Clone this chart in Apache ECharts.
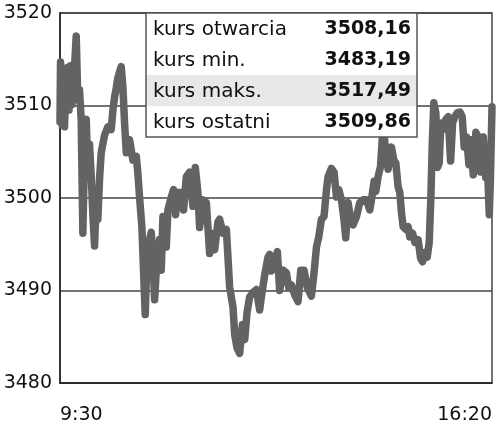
<!DOCTYPE html>
<html>
<head>
<meta charset="utf-8">
<script src="https://cdn.jsdelivr.net/npm/echarts@6/dist/echarts.min.js"></script>
<style>
html,body{margin:0;padding:0;background:#fff;}
#chart{width:500px;height:427px;}
</style>
</head>
<body>
<div id="chart"></div>
<script>
// minutes after 9:30
var times = [0,0.5,1.9,3.3,4.3,5.7,7.1,8.6,10.0,11.4,12.8,15.4,16.9,18.5,20.1,21.7,23.3,24.9,26.4,28.0,
29.6,31.2,32.8,34.4,35.9,37.5,39.1,42.3,45.4,48.6,50.2,51.8,53.4,54.9,56.5,58.1,59.7,61.3,62.9,66.0,
69.2,72.4,73.9,75.5,77.7,79.6,80.9,82.2,83.4,85.0,86.6,88.2,89.8,91.4,92.9,94.5,96.1,97.7,99.3,100.9,
102.4,105.6,107.8,109.7,111.9,115.1,117.3,119.9,123.0,126.2,128.4,130.9,132.5,135.7,138.9,142.0,143.6,146.8,149.9,151.5,
154.7,157.9,159.4,161.0,164.2,165.8,168.0,170.5,173.1,175.3,177.5,180.0,183.2,186.4,189.5,191.1,194.3,197.4,199.0,200.6,
203.1,206.3,208.5,211.7,214.9,217.1,219.6,222.8,225.9,228.5,231.6,234.8,238.6,241.1,243.4,245.6,248.1,250.6,252.9,254.4,
257.6,260.1,262.4,264.6,267.1,269.6,271.2,273.4,276.0,278.2,281.4,284.5,287.7,290.9,294.0,295.6,298.1,299.7,301.9,304.2,
306.7,309.2,311.4,314.6,316.8,318.7,320.9,322.5,324.1,325.7,328.2,330.4,332.0,334.6,336.8,339.9,342.2,344.1,346.3,348.5,
350.4,352.0,353.2,354.8,356.7,358.3,359.9,361.5,363.7,366.2,368.4,370.7,372.6,374.8,377.0,379.5,381.7,383.6,385.9,388.1,
390.0,392.2,394.7,396.9,399.2,401.7,404.0,405.5,407.4,408.5,410];
var prices = [3508.2,3514.7,3507.9,3513.9,3507.7,3513.3,3514.1,3509.5,3514.3,3510.1,3512.2,3517.5,3510.6,3511.7,3508.5,3496.2,3505.2,3508.5,3503.0,3505.8,
3502.5,3498.2,3494.8,3499.8,3497.7,3502.0,3504.9,3506.8,3507.7,3507.4,3509.5,3510.9,3511.9,3513.0,3513.6,3514.2,3512.0,3508.1,3504.9,3506.3,
3504.1,3504.5,3502.7,3500.1,3496.9,3491.2,3487.4,3492.2,3494.1,3495.5,3496.3,3493.3,3489.0,3492.2,3494.1,3495.5,3492.2,3498.0,3497.1,3494.7,
3498.7,3500.1,3500.9,3498.2,3500.6,3500.6,3498.7,3502.3,3502.8,3499.1,3503.3,3500.6,3496.8,3499.8,3499.5,3494.0,3496.2,3494.4,3497.4,3497.7,
3496.2,3496.6,3493.6,3490.4,3488.2,3485.2,3483.8,3483.2,3486.3,3484.7,3487.6,3489.3,3489.8,3490.1,3487.9,3489.3,3491.7,3493.6,3493.9,3492.1,
3493.0,3494.2,3490.0,3492.2,3491.9,3490.3,3490.6,3489.5,3488.8,3492.2,3492.2,3490.3,3489.4,3491.9,3494.7,3495.8,3497.7,3498.0,3500.9,3502.3,
3503.2,3502.8,3500.1,3500.9,3499.8,3497.6,3495.7,3499.5,3497.6,3497.1,3498.0,3499.5,3499.8,3499.8,3498.7,3499.8,3501.8,3500.7,3502.3,3503.4,
3507.9,3504.9,3503.1,3505.5,3504.1,3503.8,3501.2,3500.6,3498.4,3496.9,3496.6,3496.9,3495.8,3496.2,3495.2,3495.5,3493.5,3493.1,3494.1,3493.6,
3495.2,3500.1,3505.5,3510.3,3509.2,3503.3,3503.8,3508.1,3507.4,3508.5,3508.8,3504.0,3508.1,3508.8,3509.2,3509.3,3508.8,3505.5,3506.6,3503.6,
3506.3,3502.5,3507.1,3506.6,3502.8,3506.6,3502.2,3504.1,3498.2,3502.0,3509.86];
var xTickLabels = ['9:30', '16:20'];
var yTicks = [3480, 3490, 3500, 3510, 3520];
var statLabels = ['kurs otwarcia', 'kurs min.', 'kurs maks.', 'kurs ostatni'];
var statValues = ['3508,16', '3483,19', '3517,49', '3509,86'];

var FONT = 'DejaVu Sans';
var data = times.map(function (t, i) { return [t, prices[i]]; });

// legend box graphics
var boxL = 146, boxT = 13, boxW = 271, boxH = 124, rowH = 31;
var gfx = [];
gfx.push({type:'rect', shape:{x:boxL, y:boxT, width:boxW, height:boxH}, style:{fill:'#fff', stroke:'none'}, z:100});
gfx.push({type:'rect', shape:{x:boxL, y:boxT + 2*rowH, width:boxW, height:rowH}, style:{fill:'#e8e8e8'}, z:101});
gfx.push({type:'rect', shape:{x:boxL, y:boxT, width:boxW, height:boxH}, style:{fill:'none', stroke:'#555', lineWidth:1.5}, z:103});
statLabels.forEach(function (lab, i) {
  var cy = boxT + rowH * i + rowH / 2 + 1;
  gfx.push({type:'text', x:boxL + 7, y:cy, z:104,
    style:{text:lab, font:'20px "' + FONT + '"', fill:'#111', textVerticalAlign:'middle', textAlign:'left'}});
  gfx.push({type:'text', x:boxL + boxW - 6, y:cy, z:104,
    style:{text:statValues[i], font:'bold 19px "' + FONT + '"', fill:'#111', textVerticalAlign:'middle', textAlign:'right'}});
});

var chart = echarts.init(document.getElementById('chart'), null, {renderer:'canvas'});
chart.setOption({
  animation:false,
  backgroundColor:'#fff',
  grid:{left:60, right:8, top:13, bottom:44, show:true, borderColor:'#444', borderWidth:1.5, backgroundColor:'transparent'},
  xAxis:{
    type:'value', min:0, max:410, interval:410,
    axisLine:{show:true, lineStyle:{color:'#222', width:1.5}},
    axisTick:{show:false},
    splitLine:{show:false},
    axisLabel:{
      margin:23, fontFamily:FONT, fontSize:19, color:'#111',
      alignMinLabel:'left', alignMaxLabel:'right',
      formatter:function (v) { return v === 0 ? xTickLabels[0] : xTickLabels[1]; }
    }
  },
  yAxis:{
    type:'value', min:yTicks[0], max:yTicks[yTicks.length-1], interval:10,
    axisLine:{show:true, lineStyle:{color:'#222', width:1.5}},
    axisTick:{show:false},
    splitLine:{show:true, lineStyle:{color:'#444', width:1.5}},
    axisLabel:{margin:8, fontFamily:FONT, fontSize:19, color:'#111',
      formatter:function (v) { return String(v); }}
  },
  series:[{
    type:'line', data:data, showSymbol:false, symbol:'none',
    lineStyle:{color:'#636363', width:7.5, join:'round', cap:'round'},
    z:5
  }],
  graphic:gfx
});
</script>
</body>
</html>
